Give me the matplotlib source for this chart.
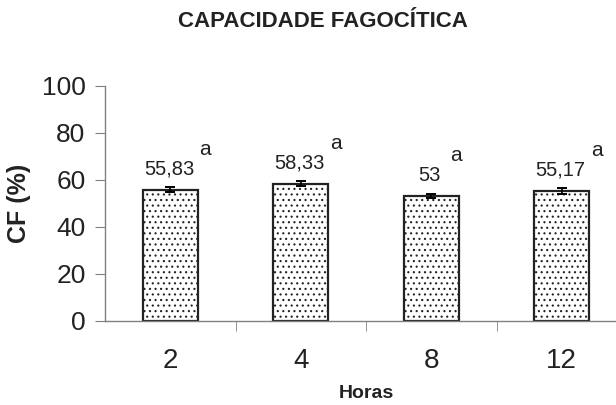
import matplotlib.pyplot as plt
import numpy as np

plt.rcParams["font.family"] = ["Liberation Sans", "DejaVu Sans"]
plt.rcParams["hatch.color"] = "#6a6a6a"
plt.rcParams["hatch.linewidth"] = 0.8

horas = ["2", "4", "8", "12"]
cf_values = [55.83, 58.33, 53.0, 55.17]
cf_errors = [1.2, 1.0, 0.8, 1.3]
value_labels = ["55,83", "58,33", "53", "55,17"]
letters = ["a", "a", "a", "a"]

fig = plt.figure(figsize=(6.16, 4.05), dpi=100)
# the x axis runs past the right edge of the picture, as in the original
ax = fig.add_axes([0.1705, 0.2086, 0.8474, 0.5791])

x = np.arange(len(horas))
ax.bar(x, cf_values, width=0.42, color="white", edgecolor="#222222",
       linewidth=1.6, hatch="...", zorder=2)
ax.errorbar(x, cf_values, yerr=cf_errors, fmt="none", ecolor="black",
            elinewidth=1.2, capsize=3.6, capthick=1.4, zorder=3)

for i in range(len(horas)):
    ax.annotate(value_labels[i], (x[i], cf_values[i]), xytext=(-1, 11),
                textcoords="offset points", ha="center", va="baseline",
                fontsize=14.5, color="#222222")
    ax.annotate(letters[i], (x[i], cf_values[i]),
                xytext=(12.5 + 2.5 * len(value_labels[i]), 25),
                textcoords="offset points", ha="center", va="baseline",
                fontsize=15, color="#222222")

ax.set_xlim(-0.5, len(horas) - 0.5)
ax.set_ylim(0, 100)
ax.set_yticks(np.arange(0, 101, 20))
ax.set_xticks(x)
ax.set_xticklabels(horas)
ax.set_xticks(np.arange(0.5, len(horas) - 0.5, 1), minor=True)

for s in ["top", "right"]:
    ax.spines[s].set_visible(False)
for s in ["left", "bottom"]:
    ax.spines[s].set_color("#808080")
    ax.spines[s].set_linewidth(1.0)

ax.tick_params(axis="y", direction="out", length=7, color="#808080",
               labelsize=19, pad=7, labelcolor="#222222")
ax.tick_params(axis="x", which="major", length=0, labelsize=20, pad=20,
               labelcolor="#222222")
ax.tick_params(axis="x", which="minor", direction="out", length=7,
               color="#808080")

ax.set_ylabel("CF (%)", fontsize=18, fontweight="bold", labelpad=8,
              color="#222222")
ax.set_xlabel("Horas", fontsize=14, fontweight="bold", labelpad=8,
              color="#222222")
fig.text(0.5235, 0.948, "CAPACIDADE FAGOCÍTICA", ha="center", va="center",
         fontsize=16, fontweight="bold", color="#222222")

fig.savefig("out.png", dpi=100)
